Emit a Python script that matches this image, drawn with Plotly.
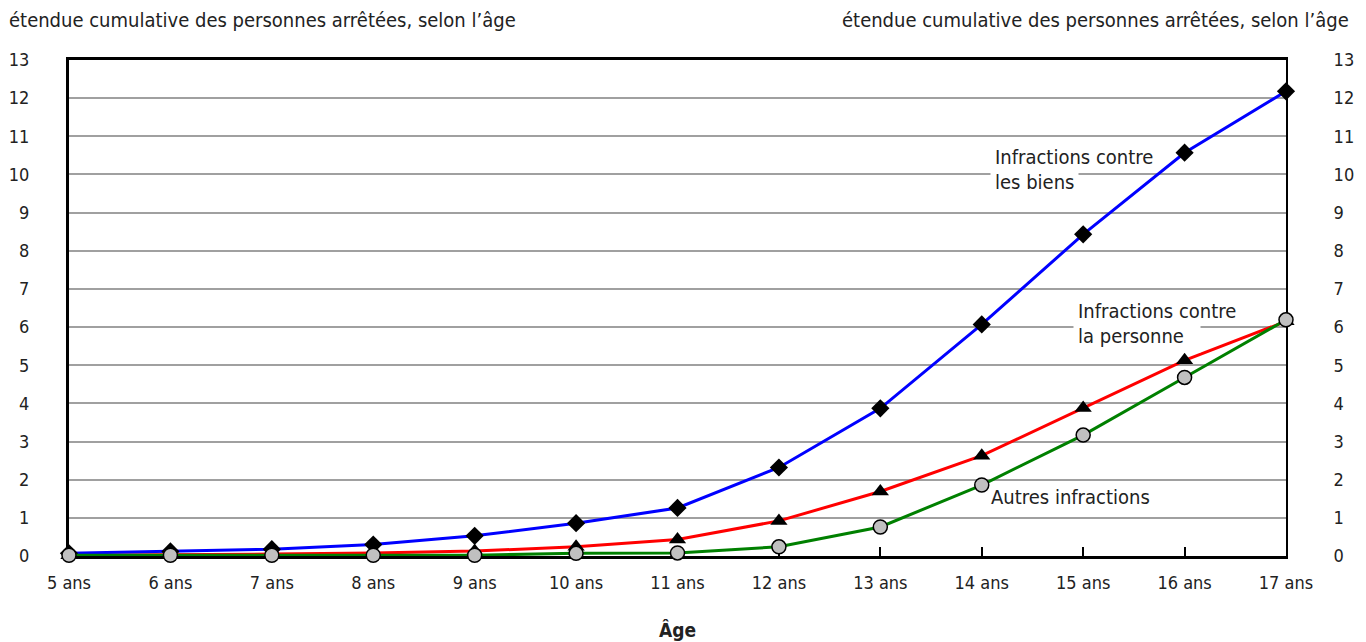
import plotly.graph_objects as go

ages = ["5 ans", "6 ans", "7 ans", "8 ans", "9 ans", "10 ans", "11 ans", "12 ans",
        "13 ans", "14 ans", "15 ans", "16 ans", "17 ans"]
biens = [0.07, 0.12, 0.18, 0.30, 0.53, 0.86, 1.26, 2.32, 3.87, 6.07, 8.43, 10.57, 12.18]
personne = [0.02, 0.03, 0.05, 0.08, 0.13, 0.24, 0.43, 0.92, 1.69, 2.63, 3.88, 5.13, 6.15]
autres = [0.02, 0.02, 0.02, 0.02, 0.02, 0.07, 0.08, 0.24, 0.76, 1.86, 3.17, 4.68, 6.19]
yticks = list(range(0, 14))

FONT = "DejaVu Sans Condensed, Liberation Sans Narrow, Arial Narrow, sans-serif"
W, H = 1366, 642
L, T = 69, 60
R = W - 1286
B = H - 556
pw = W - L - R
ph = H - T - B

fig = go.Figure()
fig.add_trace(go.Scatter(x=ages, y=personne, mode="lines+markers", name="Infractions contre la personne",
                         line=dict(color="#ff0000", width=3),
                         marker=dict(symbol="triangle-up", size=15, color="black"), cliponaxis=False))
fig.add_trace(go.Scatter(x=ages, y=biens, mode="lines+markers", name="Infractions contre les biens",
                         line=dict(color="#0000ff", width=3),
                         marker=dict(symbol="diamond", size=14, color="black"), cliponaxis=False))
fig.add_trace(go.Scatter(x=ages, y=autres, mode="lines+markers", name="Autres infractions",
                         line=dict(color="#008000", width=3),
                         marker=dict(symbol="circle", size=14, color="#c0c0c0",
                                     line=dict(color="black", width=1.5)), cliponaxis=False))
fig.add_trace(go.Scatter(x=ages, y=autres, yaxis="y2", mode="markers", showlegend=False,
                         marker=dict(opacity=0), hoverinfo="skip"))

fig.update_layout(
    width=W, height=H,
    margin=dict(l=L, r=R, t=T, b=B, autoexpand=False),
    paper_bgcolor="white", plot_bgcolor="white",
    showlegend=False,
    font=dict(family=FONT, size=18, color="#222222"),
    xaxis=dict(type="category", range=[0, 12], showline=True, linecolor="black", linewidth=3,
               mirror=True, ticks="inside", ticklen=9, tickwidth=2, tickcolor="black",
               showgrid=False, layer="below traces", tickfont=dict(size=18),
               ticklabelstandoff=8),
    yaxis=dict(range=[0, 13], tickvals=yticks, showline=True, linecolor="black", linewidth=3,
               showgrid=True, gridcolor="#a0a0a0", gridwidth=2, zeroline=False,
               ticks="", ticklabelstandoff=33, layer="below traces", tickfont=dict(size=18)),
    yaxis2=dict(range=[0, 13], tickvals=yticks, overlaying="y", side="right", showline=True,
                linecolor="black", linewidth=2, showgrid=False, zeroline=False, ticks="",
                ticklabelstandoff=42, layer="below traces", tickfont=dict(size=18)),
)

ann_font = dict(family=FONT, size=20, color="#222222")
fig.add_annotation(xref="paper", yref="paper", x=(7 - L) / pw, y=1 + (T - 20) / ph,
                   xanchor="left", yanchor="middle", showarrow=False,
                   text="étendue cumulative des personnes arrêtées, selon l’âge", font=ann_font)
fig.add_annotation(xref="paper", yref="paper", x=(1351 - L) / pw, y=1 + (T - 20) / ph,
                   xanchor="right", yanchor="middle", showarrow=False,
                   text="étendue cumulative des personnes arrêtées, selon l’âge", font=ann_font)
# x-axis title
fig.add_annotation(xref="paper", yref="paper", x=(677 - L) / pw, y=-(630 - 556) / ph,
                   xanchor="center", yanchor="middle", showarrow=False,
                   text="<b>Âge</b>", font=dict(family=FONT, size=19, color="#222222"))

# series labels: second line of each two-line label masks the gridline behind it
fig.add_annotation(x="14 ans", y=10.46, xshift=8, xanchor="left", yanchor="middle", showarrow=False,
                   align="left", text="Infractions contre", font=ann_font, borderpad=4)
fig.add_annotation(x="14 ans", y=9.80, xshift=8, xanchor="left", yanchor="middle", showarrow=False,
                   align="left", text="les biens", font=ann_font, bgcolor="white", borderpad=4)
fig.add_annotation(x="15 ans", y=6.42, xshift=-10, xanchor="left", yanchor="middle", showarrow=False,
                   align="left", text="Infractions contre", font=ann_font, borderpad=4)
fig.add_annotation(x="15 ans", y=5.77, xshift=-10, xanchor="left", yanchor="middle", showarrow=False,
                   align="left", text="la personne", font=ann_font, bgcolor="white",
                   borderpad=4, width=118)
fig.add_annotation(x="14 ans", y=1.55, xshift=6, xanchor="left", yanchor="middle", showarrow=False,
                   align="left", text="Autres infractions", font=ann_font, borderpad=2)

fig.write_html("out.html", config={"displayModeBar": False},
               post_script="document.body.style.margin='0';")
